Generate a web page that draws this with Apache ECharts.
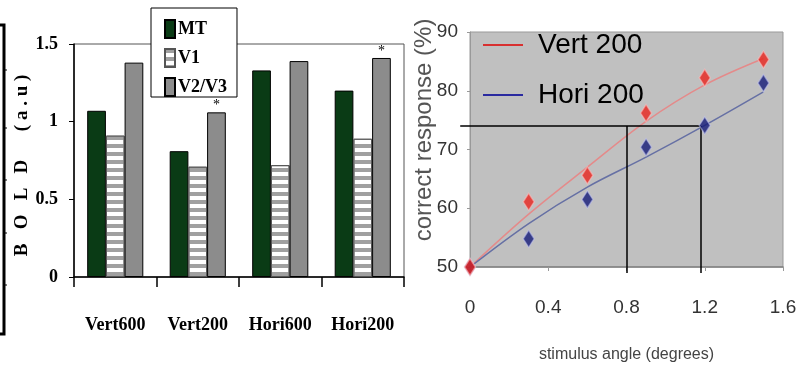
<!DOCTYPE html>
<html><head><meta charset="utf-8">
<script src="https://cdn.jsdelivr.net/npm/echarts@6/dist/echarts.min.js"></script>
<style>html,body{margin:0;padding:0;background:#fff;}#c{width:809px;height:377px;}</style>
</head><body><div id="c"></div>
<script>
// ---- Left chart: BOLD response bars ----
const barCategories = ['Vert600', 'Vert200', 'Hori600', 'Hori200'];
const mtValues  = [1.07, 0.81, 1.33, 1.20];
const v1Values  = [0.91, 0.71, 0.72, 0.89];
const v23Values = [1.38, 1.06, 1.39, 1.41];
const v23Starred = [false, true, false, true];
const barSeriesNames = ['MT', 'V1', 'V2/V3'];

// ---- Right chart: psychometric curves ----
const angles     = [0, 0.3, 0.6, 0.9, 1.2, 1.5];
const vertPoints = [50, 61.1, 65.6, 76.2, 82.2, 85.3];
const horiPoints = [50, 54.8, 61.5, 70.4, 74.1, 81.3];
const vertFit    = [50, 59.0, 67.0, 74.8, 81.0, 85.5];
const horiFit    = [50, 57.4, 63.6, 68.7, 74.1, 79.8];
const thresholdLevel = 74;
const thresholdAngles = [0.8, 1.18];
const thresholdFloor = 49;
const thresholdStart = -0.05;
const lineSeriesNames = ['Vert 200', 'Hori 200'];
const rightYName = 'correct response (%)';

const SERIF = "'Liberation Serif','Times New Roman',serif";
const SANS = "'Liberation Sans',Arial,sans-serif";

const chart = echarts.init(document.getElementById('c'));

const pairs = (xs, ys) => xs.map((x, i) => [x, ys[i]]);

const option = {
  animation: false,
  backgroundColor: '#fff',
  grid: [
    {left: 74, top: 44, width: 330, height: 233, show: true, borderColor: '#555', borderWidth: 1, backgroundColor: '#fff'},
    {left: 470, top: 32, width: 313, height: 235, show: true, borderColor: '#999', borderWidth: 1, backgroundColor: '#c0c0c0'}
  ],
  legend: [
    {
      data: barSeriesNames,
      orient: 'vertical',
      left: 151, top: 8,
      padding: [11, 10, 0, 13],
      itemGap: 9,
      itemWidth: 10, itemHeight: 18,
      icon: 'rect',
      backgroundColor: '#fff',
      borderColor: '#000', borderWidth: 1,
      z: 1,
      textStyle: {fontFamily: SERIF, fontWeight: 'bold', fontSize: 18, lineHeight: 18, color: '#000', padding: [0, 0, 0, -2]}
    },
    {
      data: [
        {name: lineSeriesNames[0], itemStyle: {color: '#d83030'}},
        {name: lineSeriesNames[1], itemStyle: {color: '#2a2aa0'}}
      ],
      orient: 'vertical',
      left: 483, top: 30,
      padding: 0,
      icon: 'rect',
      itemGap: 20,
      itemWidth: 40, itemHeight: 2,
      textStyle: {fontFamily: SANS, fontSize: 28, lineHeight: 30, color: '#000', padding: [0, 0, 0, 10]}
    }
  ],
  xAxis: [
    {
      gridIndex: 0, type: 'category', data: barCategories,
      axisLine: {lineStyle: {color: '#000', width: 1.5}},
      axisTick: {show: true, length: 10, interval: 0, lineStyle: {color: '#000', width: 1.5}},
      axisLabel: {margin: 39, fontFamily: SERIF, fontWeight: 'bold', fontSize: 18, color: '#000'}
    },
    {
      gridIndex: 1, type: 'value', min: 0, max: 1.6, interval: 0.4,
      axisLine: {show: true, lineStyle: {color: '#808080', width: 1.5}},
      axisTick: {show: true, length: 4, lineStyle: {color: '#999'}},
      splitLine: {show: false},
      axisLabel: {margin: 31, fontFamily: SANS, fontSize: 19, color: '#333'},
      name: 'stimulus angle (degrees)', nameLocation: 'middle', nameGap: 80,
      nameTextStyle: {fontFamily: SANS, fontSize: 16, color: '#444'}
    }
  ],
  yAxis: [
    {
      gridIndex: 0, type: 'value', min: 0, max: 1.5, interval: 0.5,
      axisLine: {show: true, lineStyle: {color: '#000', width: 1.5}},
      axisTick: {show: true, length: 5, lineStyle: {color: '#000'}},
      splitLine: {show: false},
      axisLabel: {margin: 16, fontFamily: SERIF, fontWeight: 'bold', fontSize: 18, color: '#000'},
      name: 'B   O   L   D      ( a . u )', nameLocation: 'middle', nameGap: 42, nameRotate: 90,
      nameTextStyle: {fontFamily: SERIF, fontWeight: 'bold', fontSize: 19, color: '#000', padding: [0, 10, 0, 0]}
    },
    {
      gridIndex: 1, type: 'value', min: 50, max: 90, interval: 10,
      axisLine: {show: true, lineStyle: {color: '#999'}},
      axisTick: {show: true, length: 3, lineStyle: {color: '#999'}},
      splitLine: {show: false},
      axisLabel: {margin: 12, fontFamily: SANS, fontSize: 19, color: '#333'}
    }
  ],
  series: [
    {
      name: barSeriesNames[0], type: 'bar', xAxisIndex: 0, yAxisIndex: 0,
      data: mtValues, barGap: '0%', barCategoryGap: '32%',
      itemStyle: {color: '#0a3b15', borderColor: '#000', borderWidth: 1}
    },
    {
      name: barSeriesNames[1], type: 'bar', xAxisIndex: 0, yAxisIndex: 0,
      data: v1Values, barGap: '0%', barCategoryGap: '32%',
      itemStyle: {
        color: '#ffffff', borderColor: '#555', borderWidth: 1,
        decal: {symbol: 'rect', symbolSize: 1, dashArrayX: [1, 0], dashArrayY: [4, 4], color: '#a0a0a0', rotation: 0}
      }
    },
    {
      name: barSeriesNames[2], type: 'bar', xAxisIndex: 0, yAxisIndex: 0,
      data: v23Values.map((v, i) => v23Starred[i]
        ? {value: v, label: {show: true, position: 'top', distance: 0, formatter: '*', fontSize: 14, color: '#000', fontFamily: SERIF}}
        : v),
      barGap: '0%', barCategoryGap: '32%', z: 3,
      itemStyle: {color: '#8c8c8c', borderColor: '#000', borderWidth: 1}
    },
    {
      name: lineSeriesNames[0], type: 'line', xAxisIndex: 1, yAxisIndex: 1,
      data: pairs(angles, vertFit), smooth: 0.35, symbol: 'none',
      lineStyle: {color: '#e48a8a', width: 1.5}, itemStyle: {color: '#e48a8a'}, z: 2
    },
    {
      name: lineSeriesNames[1], type: 'line', xAxisIndex: 1, yAxisIndex: 1,
      data: pairs(angles, horiFit), smooth: 0.35, symbol: 'none',
      lineStyle: {color: '#6670a4', width: 1.5}, itemStyle: {color: '#6670a4'}, z: 2
    },
    {
      name: 'threshold', type: 'lines', coordinateSystem: 'cartesian2d', xAxisIndex: 1, yAxisIndex: 1,
      clip: false, silent: true, z: 3,
      lineStyle: {color: '#000', width: 1.5, opacity: 1, curveness: 0},
      data: [
        {coords: [[thresholdStart, thresholdLevel], [thresholdAngles[1], thresholdLevel]]},
        {coords: [[thresholdAngles[0], thresholdLevel], [thresholdAngles[0], thresholdFloor]]},
        {coords: [[thresholdAngles[1], thresholdLevel], [thresholdAngles[1], thresholdFloor]]}
      ]
    },
    {
      name: 'Hori 200 data', type: 'scatter', xAxisIndex: 1, yAxisIndex: 1,
      data: pairs(angles, horiPoints), symbol: 'diamond', symbolSize: [11, 17], clip: false,
      itemStyle: {color: '#141a78', borderColor: 'rgba(190,195,240,0.7)', borderWidth: 1.5}, z: 4
    },
    {
      name: 'Vert 200 data', type: 'scatter', xAxisIndex: 1, yAxisIndex: 1,
      data: pairs(angles, vertPoints), symbol: 'diamond', symbolSize: [11, 17], clip: false,
      itemStyle: {color: '#e8231d', borderColor: 'rgba(255,190,190,0.7)', borderWidth: 1.5}, z: 5
    }
  ],
  graphic: [
    {type: 'text', x: 424, y: 130, rotation: Math.PI / 2,
     style: {text: rightYName, fontFamily: SANS, fontSize: 24, fill: '#555', align: 'center', verticalAlign: 'middle'}},
    {type: 'polyline', shape: {points: [[0, 25], [4, 25], [4, 334], [0, 334]]}, style: {stroke: '#000', lineWidth: 3, fill: null}},
    {type: 'line', shape: {x1: 4, y1: 70, x2: 7, y2: 70}, style: {stroke: '#000', lineWidth: 1}},
    {type: 'line', shape: {x1: 4, y1: 128, x2: 7, y2: 128}, style: {stroke: '#000', lineWidth: 1}},
    {type: 'line', shape: {x1: 4, y1: 180, x2: 7, y2: 180}, style: {stroke: '#000', lineWidth: 1}},
    {type: 'line', shape: {x1: 4, y1: 233, x2: 7, y2: 233}, style: {stroke: '#000', lineWidth: 1}},
    {type: 'line', shape: {x1: 4, y1: 285, x2: 7, y2: 285}, style: {stroke: '#000', lineWidth: 1}}
  ]
};
chart.setOption(option);
</script>
</body></html>
